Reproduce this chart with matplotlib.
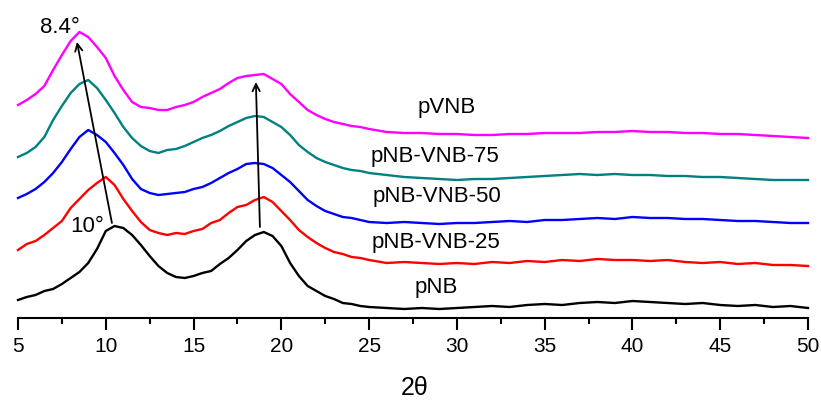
import numpy as np
import matplotlib
matplotlib.use("Agg")
import matplotlib.pyplot as plt

plt.rcParams['font.family'] = ['Liberation Sans', 'DejaVu Sans']

# 2theta grid (deg)
two_theta = [5, 5.5, 6, 6.5, 7, 7.5, 8, 8.5, 9, 9.5, 10, 10.5, 11, 11.5, 12, 12.5,
             13, 13.5, 14, 14.5, 15, 15.5, 16, 16.5, 17, 17.5, 18, 18.5, 19, 19.5,
             20, 20.5, 21, 21.5, 22, 22.5, 23, 23.5, 24, 24.5, 25,
             26, 27, 28, 29, 30, 31, 32, 33, 34, 35, 36, 37, 38, 39, 40,
             41, 42, 43, 44, 45, 46, 47, 48, 49, 50]

# intensities (a.u.), before stacking
pNB = [18, 21, 23, 27, 29, 34, 40, 46, 55, 69, 87, 92, 90, 83, 73, 62,
       52, 45, 41, 40, 42, 45, 47, 54, 60, 68, 77, 83, 86, 82, 72, 55,
       42, 32, 27, 22, 19, 15, 14, 12, 11,
       10, 9, 10, 9, 10, 11, 12, 11, 13, 14, 13, 15, 16, 15, 17,
       16, 15, 14, 15, 13, 12, 13, 11, 12, 10]
pNB_VNB_25 = [23, 29, 32, 38, 45, 52, 65, 74, 83, 90, 96, 88, 74, 62, 51, 43,
              40, 38, 40, 39, 42, 44, 50, 53, 60, 66, 68, 73, 76, 71, 62, 53,
              43, 36, 30, 25, 21, 19, 16, 15, 13,
              10, 11, 10, 9, 10, 9, 11, 10, 12, 11, 13, 12, 14, 13, 13,
              12, 13, 11, 10, 11, 9, 10, 8, 8, 7]
pNB_VNB_50 = [35, 39, 44, 51, 60, 71, 84, 96, 103, 98, 91, 80, 68, 54, 44, 40,
              38, 39, 40, 41, 44, 46, 50, 55, 60, 64, 69, 70, 69, 65, 58, 51,
              42, 33, 27, 22, 19, 16, 15, 13, 11,
              10, 11, 10, 9, 10, 10, 11, 12, 11, 13, 13, 14, 15, 14, 16,
              15, 15, 14, 14, 13, 12, 12, 11, 10, 10]
pNB_VNB_75 = [36, 40, 46, 56, 73, 87, 100, 109, 113, 105, 93, 80, 66, 55, 47, 42,
              40, 43, 44, 47, 51, 55, 58, 62, 67, 71, 75, 77, 76, 71, 66, 58,
              48, 41, 35, 31, 28, 25, 23, 22, 20,
              18, 16, 15, 14, 13, 14, 14, 15, 16, 17, 18, 19, 18, 19, 18,
              18, 17, 17, 16, 16, 15, 14, 13, 13, 13]
pVNB = [43, 48, 54, 62, 78, 93, 107, 116, 111, 101, 90, 72, 58, 46, 41, 40,
        38, 38, 41, 43, 46, 51, 55, 59, 65, 70, 72, 73, 74, 69, 64, 54,
        46, 38, 33, 29, 26, 24, 22, 21, 19,
        16, 15, 15, 14, 14, 13, 13, 14, 14, 15, 15, 15, 16, 16, 17,
        16, 16, 15, 15, 14, 14, 13, 12, 11, 10]

names = ['pNB', 'pNB-VNB-25', 'pNB-VNB-50', 'pNB-VNB-75', 'pVNB']
series = [pNB, pNB_VNB_25, pNB_VNB_50, pNB_VNB_75, pVNB]
colors = ['black', '#ff0000', '#0000ff', '#008080', '#ff00ff']
offsets = [0, 45, 85, 125, 170]

fig = plt.figure(figsize=(8.21, 4.01), dpi=100)
ax = fig.add_axes([18 / 821, 83 / 401, 790 / 821, 318 / 401])

for y, c, off in zip(series, colors, offsets):
    ax.plot(two_theta, np.array(y) + off, color=c, lw=1.7, clip_on=False)

# sample labels
label_pos = [(28.85, 25), (28.8, 70), (28.85, 116), (28.75, 156), (29.4, 205)]
for name, (lx, ly) in zip(names, label_pos):
    ax.text(lx, ly, name, ha='center', va='baseline', fontsize=16)

# peak shift arrows
arrow = dict(arrowstyle='->', lw=1.3, color='black', shrinkA=0, shrinkB=0,
             mutation_scale=13)
ax.annotate('', xy=(8.36, 276), xytext=(10.35, 95), arrowprops=arrow)
ax.annotate('', xy=(18.55, 236), xytext=(18.78, 91), arrowprops=arrow)
ax.text(7.4, 285, '8.4°', ha='center', va='baseline', fontsize=16)
ax.text(8.95, 86, '10°', ha='center', va='baseline', fontsize=16)

ax.set_xlim(5, 50)
ax.set_ylim(0, 318)
ax.set_xticks(np.arange(5, 51, 5))
ax.set_xticks(np.arange(7.5, 50, 5), minor=True)
ax.set_yticks([])
for s in ['left', 'right', 'top']:
    ax.spines[s].set_visible(False)
ax.spines['bottom'].set_linewidth(1.5)
ax.tick_params(axis='x', which='major', direction='out', length=8.5, width=1.5,
               labelsize=15, pad=5)
ax.tick_params(axis='x', which='minor', direction='out', length=4.5, width=1.5)
ax.patch.set_alpha(0)

fig.text(415 / 821, 1 - 388 / 401, '2θ', ha='center', va='center', fontsize=18)

fig.savefig('out.png', dpi=100)
